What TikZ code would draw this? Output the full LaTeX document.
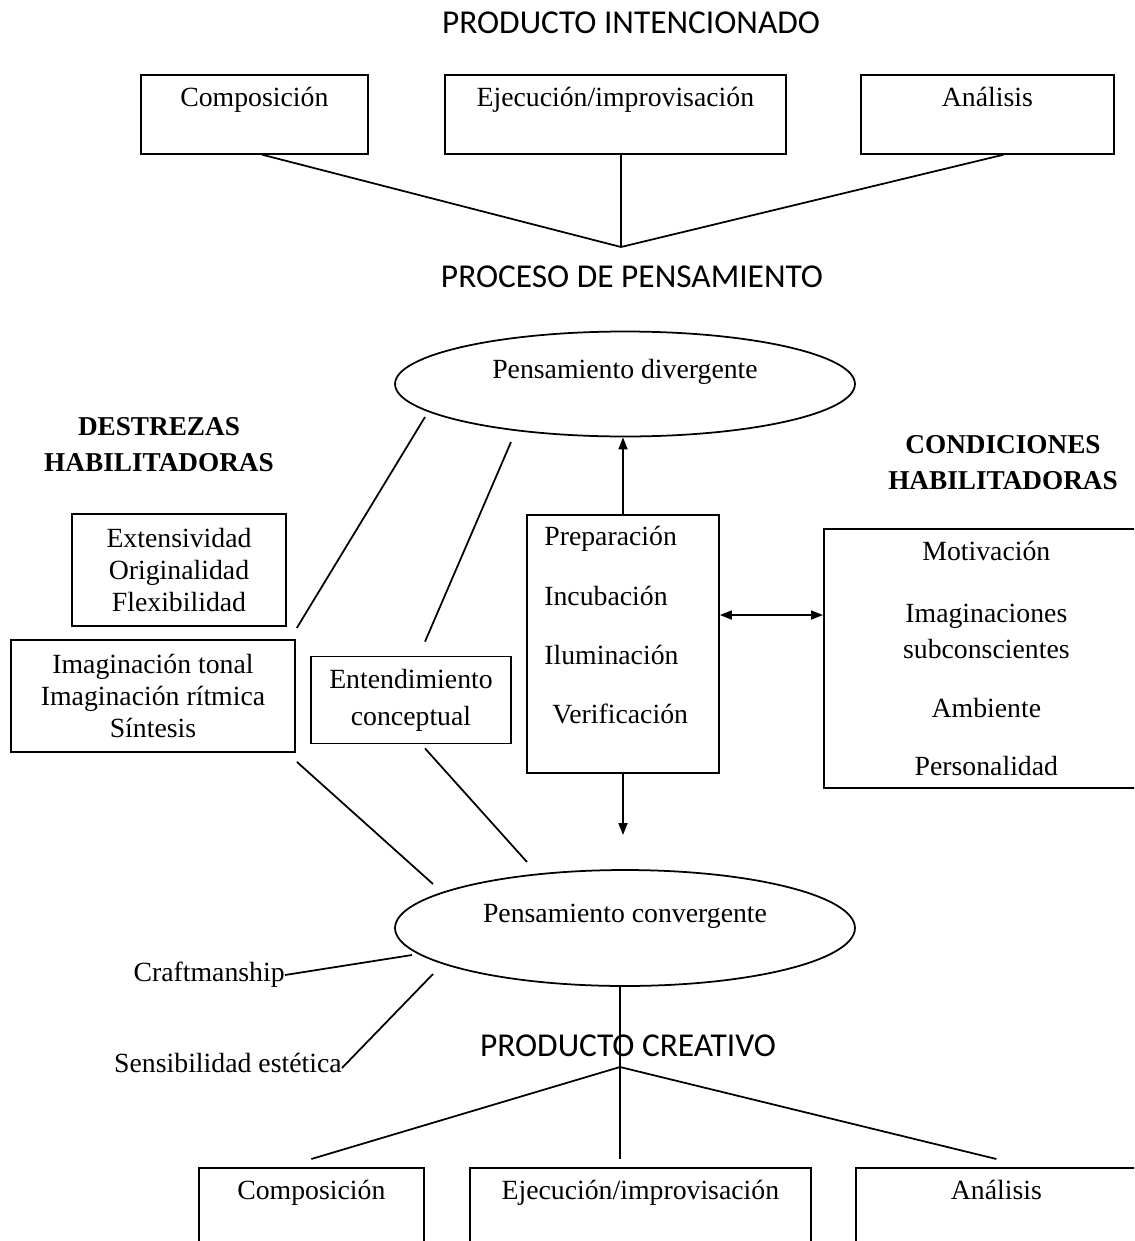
\documentclass[tikz,border=0pt]{standalone}
\usepackage{fontspec}
\setmainfont{Liberation Serif}
\newfontfamily\carlito{Carlito}
\usetikzlibrary{shapes.geometric,arrows.meta,calc,positioning}

\tikzset{
  txt/.style={font=\fontsize{15.8}{18.4}\selectfont, inner sep=0pt},
  caja/.style={draw, rectangle, line width=1pt, txt},
  producto/.style={caja, anchor=north west, text height=0.64cm, text depth=0.94cm},
  elipse/.style={draw, ellipse, line width=1pt, txt, minimum width=9.2cm, text height=0.4cm, text depth=0.62cm},
  seccion/.style={font=\carlito\fontsize{19}{22}\selectfont, inner sep=0pt},
  titulo/.style={font=\bfseries\fontsize{15.5}{20.4}\selectfont, align=center, inner sep=0pt},
  linea/.style={line width=1pt},
  flecha/.style={line width=1pt, -{Triangle[length=2.4mm,width=1.8mm]}},
  flechas/.style={line width=1pt, {Triangle[length=2.4mm,width=1.8mm]}-{Triangle[length=2.4mm,width=1.8mm]}},
}

\begin{document}
\begin{tikzpicture}[x=0.02cm, y=-0.02cm]
    \clip (0,0) rectangle (1134,1241);

    % producto intencionado
    \node[seccion] (intenc) at (631,23) {PRODUCTO INTENCIONADO};
    \node[producto, minimum width=4.54cm] (comp1) at (140,74) {Composición};
    \node[producto, minimum width=6.82cm] (ejec1) at (444,74) {Ejecución/improvisación};
    \node[producto, minimum width=5.06cm] (anal1) at (860,74) {Análisis};
    \coordinate (vtop) at (621,247);
    \draw[linea] ($(comp1.south)+(8,0)$) -- (vtop) -- ($(anal1.south)+(16,0)$);
    \draw[linea] (vtop |- ejec1.south) -- (vtop);

    \node[seccion] (proceso) at (632,277) {PROCESO DE PENSAMIENTO};
    \node[elipse, minimum height=2.1cm] (div) at (625,384) {Pensamiento divergente};

    % destrezas
    \node[titulo] (destrezas) at (159,445) {DESTREZAS\\HABILITADORAS};
    \node[caja, align=center, minimum width=4.28cm, minimum height=2.24cm] (ext) at (179,570) {Extensividad\\Originalidad\\Flexibilidad};
    \node[caja, align=center, minimum width=5.68cm, minimum height=2.24cm] (imag) at (153,696) {Imaginación tonal\\Imaginación rítmica\\Síntesis};
    \node[caja, align=center, minimum width=4cm, minimum height=1.74cm, font=\fontsize{15.8}{21}\selectfont] (ent) at (411,700) {Entendimiento\\conceptual};

    % etapas
    \node[caja, minimum width=3.84cm, minimum height=5.16cm] (etapas) at (623,644) {};
    \node[txt, align=left, anchor=north west, font=\fontsize{15.8}{33.8}\selectfont] (fases) at (544,526) {Preparación\\Incubación\\Iluminación\\\hspace{0.16cm}Verificación};

    % condiciones
    \node[titulo] (condic) at (1003,463) {CONDICIONES\\HABILITADORAS};
    \node[caja, align=center, anchor=north west, minimum width=6.5cm, minimum height=5.18cm, font=\fontsize{15.8}{20.4}\selectfont] (cond) at (823,528) {Motivación\\[15pt]Imaginaciones\\subconscientes\\[13.5pt]Ambiente\\[12.5pt]Personalidad};

    \node[elipse, minimum height=2.32cm] (conv) at (625,928) {Pensamiento convergente};
    \node[txt, anchor=east] (craft) at (285,975) {Craftmanship};
    \node[txt, anchor=east] (sens) at (342,1063) {Sensibilidad estética};

    % flechas
    \coordinate (hy) at (0,615);
    \coordinate (abajo) at (623,835);
    \draw[flecha] (etapas.north) -- (etapas.north |- div.south);
    \draw[flecha] (etapas.south) -- (abajo);
    \draw[flechas] (etapas.east |- hy) -- (cond.west |- hy);

    % lineas de las destrezas
    \draw[linea] ($(div.center)+(-200,33)$) -- ($(ext.south east)+(10,1)$);
    \draw[linea] ($(div.center)+(-114,58)$) -- ($(ent.north)+(14,-14)$);
    \draw[linea] ($(imag.south east)+(1,9)$) -- ($(conv.center)+(-192,-44)$);
    \draw[linea] ($(ent.south)+(14,4)$) -- ($(conv.center)+(-98,-66)$);
    \draw[linea] (craft.east) -- ($(conv.center)+(-213,27)$);
    \draw[linea] ($(sens.east)+(0,5)$) -- ($(conv.center)+(-192,46)$);

    % producto creativo
    \node[seccion] (creativo) at (628,1046) {PRODUCTO CREATIVO};
    \node[producto, minimum width=4.5cm] (comp2) at (198,1167) {Composición};
    \node[producto, minimum width=6.82cm] (ejec2) at (469,1167) {Ejecución/improvisación};
    \node[producto, minimum width=5.62cm] (anal2) at (855,1167) {Análisis};
    \coordinate (fan) at (620,1067);
    \draw[linea] (conv.south -| fan) -- (fan);
    \foreach \dest in {comp2,anal2}
        \draw[linea] (fan) -- ($(\dest.north)+(0,-8)$);
    \draw[linea] (fan) -- ($(fan |- ejec2.north)+(0,-8)$);
\end{tikzpicture}
\end{document}
